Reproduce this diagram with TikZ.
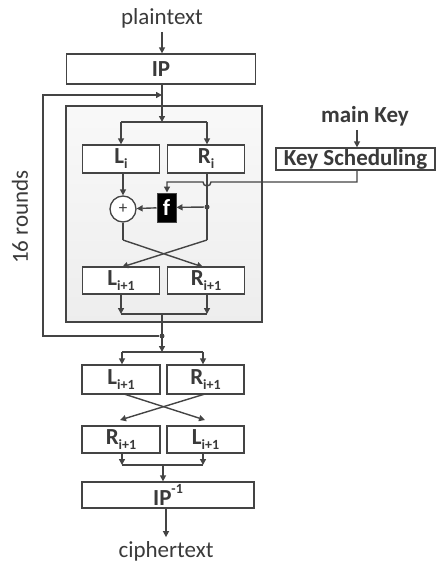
\documentclass[tikz,border=0pt]{standalone}
\usepackage{fontspec}
\setmainfont{Carlito}
\usetikzlibrary{arrows.meta}
\definecolor{ln}{HTML}{444444}
\definecolor{tx}{HTML}{3A3A3A}
\newcommand\mysub[1]{\raisebox{-0.45ex}{\fontsize{14}{14}\selectfont\bfseries #1}}
\newcommand\mysup[1]{\raisebox{1.0ex}{\fontsize{14}{14}\selectfont\bfseries #1}}
\begin{document}
\begin{tikzpicture}[x=1pt,y=-1pt,
  line width=1.4pt, draw=ln,
  >={Triangle[length=6pt,width=6pt]},
  every node/.style={text=tx, font=\fontsize{23}{26}\selectfont},
  box/.style={draw=ln, line width=1.3pt, fill=white, inner sep=0pt, font=\fontsize{23}{26}\selectfont\bfseries},
  dotn/.style={circle, fill=ln, inner sep=0pt, minimum size=5pt}]
\useasboundingbox (0,0) rectangle (437,565);
% gray round box
\shade[top color=gray!5, bottom color=gray!14] (66,106) rectangle (262,322);
\draw[line width=1.3pt] (66,106) rectangle (262,322);
% texts
\node (pt) at (162,18) {plaintext};
\node (ct) at (166,551) {ciphertext};
\node[rotate=90] (rounds) at (20,217) {16 rounds};
\node (mk) at (365,116) {\bfseries main Key};
% boxes
\node[box, minimum width=189pt, minimum height=30pt] (ip) at (161,69) {IP};
\node[box, minimum width=77pt, minimum height=28pt] (li) at (121,159) {L\mysub{i}};
\node[box, minimum width=77pt, minimum height=28pt] (ri) at (206,159) {R\mysub{i}};
\node[box, minimum width=159pt, minimum height=22pt] (ks) at (355.5,159) {Key Scheduling};
\node[draw=ln, fill=black, line width=1pt, minimum width=19pt, minimum height=29pt, inner sep=0pt, text=white, font=\fontsize{23}{26}\selectfont\bfseries] (f) at (166.5,207.5) {f};
\node[draw=ln, fill=white, circle, minimum size=26pt, inner sep=0pt, line width=1.3pt, font=\fontsize{17}{17}\selectfont] (xor) at (123,209) {+};
\node[dotn] (d1) at (207,207) {};
\node[box, minimum width=77pt, minimum height=27pt] (l1) at (121,280.5) {L\mysub{i+1}};
\node[box, minimum width=77pt, minimum height=27pt] (r1) at (206,280.5) {R\mysub{i+1}};
\node[dotn] (d2) at (162,336) {};
\node[box, minimum width=78pt, minimum height=29pt] (l2) at (121,379.5) {L\mysub{i+1}};
\node[box, minimum width=77pt, minimum height=29pt] (r2) at (205.5,379.5) {R\mysub{i+1}};
\node[box, minimum width=78pt, minimum height=27pt] (r3) at (121,439.5) {R\mysub{i+1}};
\node[box, minimum width=77pt, minimum height=27pt] (l3) at (205.5,439.5) {L\mysub{i+1}};
\node[box, minimum width=172pt, minimum height=26pt] (ipi) at (168,495) {IP\mysup{-1}};
% coordinates
\coordinate (b1) at (162,122);
\coordinate (b1l) at (121,122);
\coordinate (b1r) at (207,122);
\coordinate (c1) at (123,240);
\coordinate (c2) at (207,240);
\coordinate (m1l) at (121,314);
\coordinate (m1r) at (207,314);
\coordinate (m1) at (162,314);
\coordinate (b2) at (162,352);
\coordinate (b2l) at (122,352);
\coordinate (b2r) at (203,352);
\coordinate (m2l) at (122,465);
\coordinate (m2r) at (203,465);
\coordinate (m2) at (163,465);
\coordinate (fb1) at (43,336);
\coordinate (fb2) at (43,95);
\coordinate (fb3) at (162,95);
% connectors
\draw[->] (pt.south -| b1) -- (ip.north -| b1);
\draw[->] (ip.south -| b1) -- (b1);
\draw (b1l) -- (b1r);
\draw[->] (b1l) -- (li.north -| b1l);
\draw[->] (b1r) -- (ri.north -| b1r);
\draw[->] (mk.south -| 357,0) -- (ks.north -| 357,0);
\draw[->] (ks.south -| 357,0) -- (357,182) -- (211,182) arc[start angle=0, end angle=180, radius=4] -- (167,182) -- (f.north -| 167,0);
\draw (ri.south -| d1) -- (c2);
\draw[->] (d1) -- (f);
\draw[->] (f) -- (xor);
\draw[->] (li.south -| xor) -- (xor);
\draw (xor) -- (c1);
\draw[->] (c1) -- (203,267);
\draw[->] (c2) -- (122,267);
\draw[->] (l1.south -| m1l) -- (m1l);
\draw[->] (r1.south -| m1r) -- (m1r);
\draw (m1l) -- (m1r);
\draw[->] (m1) -- (b2);
\draw[->] (d2) -- (fb1) -- (fb2) -- (fb3);
\draw (b2l) -- (b2r);
\draw[->] (b2l) -- (l2.north -| b2l);
\draw[->] (b2r) -- (r2.north -| b2r);
\draw[->] (124,394) -- (205,420);
\draw[->] (205,394) -- (120,420);
\draw[->] (r3.south -| m2l) -- (m2l);
\draw[->] (l3.south -| m2r) -- (m2r);
\draw (m2l) -- (m2r);
\draw[->] (m2) -- (ipi.north -| m2);
\draw[->] (ipi.south -| ct) -- (ct);
\end{tikzpicture}
\end{document}
